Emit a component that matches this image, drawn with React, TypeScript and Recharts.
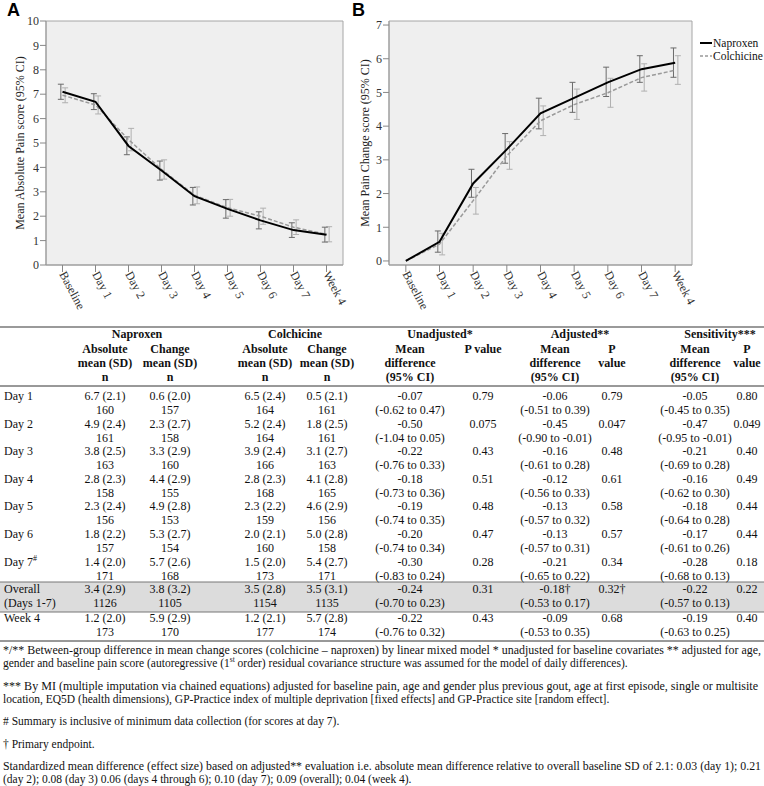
import React from 'react';
import { ComposedChart, Line, Scatter, XAxis, YAxis, ErrorBar, ReferenceArea, Legend } from 'recharts';

// ---------- chart data ----------
const categories = ['Baseline', 'Day 1', 'Day 2', 'Day 3', 'Day 4', 'Day 5', 'Day 6', 'Day 7', 'Week 4'];
const seriesNames = ['Naproxen', 'Colchicine'];

// Panel A: mean absolute pain score with 95% CI
const absNaproxen = [7.10, 6.69, 4.88, 3.87, 2.82, 2.30, 1.83, 1.43, 1.24];
const absNaproxenLow = [6.79, 6.37, 4.52, 3.48, 2.46, 1.92, 1.48, 1.13, 0.94];
const absNaproxenHigh = [7.41, 7.02, 5.25, 4.26, 3.18, 2.68, 2.18, 1.73, 1.55];
const absColchicine = [6.96, 6.56, 5.14, 3.92, 2.86, 2.35, 2.00, 1.55, 1.26];
const absColchicineLow = [6.65, 6.19, 4.68, 3.52, 2.51, 2.00, 1.67, 1.25, 0.95];
const absColchicineHigh = [7.26, 6.93, 5.60, 4.31, 3.20, 2.69, 2.33, 1.85, 1.57];

// Panel B: mean pain change score with 95% CI
const chgNaproxen = [0, 0.57, 2.30, 3.31, 4.38, 4.84, 5.30, 5.69, 5.88];
const chgNaproxenLow = [0, 0.26, 1.89, 2.90, 3.92, 4.41, 4.88, 5.30, 5.45];
const chgNaproxenHigh = [0, 0.89, 2.72, 3.78, 4.83, 5.30, 5.75, 6.09, 6.32];
const chgColchicine = [0, 0.50, 1.79, 3.12, 4.16, 4.64, 4.99, 5.44, 5.66];
const chgColchicineLow = [0, 0.18, 1.39, 2.72, 3.72, 4.20, 4.56, 5.04, 5.24];
const chgColchicineHigh = [0, 0.82, 2.18, 3.54, 4.60, 5.10, 5.42, 5.85, 6.09];

const absTicks = [0, 1, 2, 3, 4, 5, 6, 7, 8, 9, 10];
const chgTicks = [0, 1, 2, 3, 4, 5, 6, 7];

// ---------- table data ----------
const rowLabels = ['Day 1', 'Day 2', 'Day 3', 'Day 4', 'Day 5', 'Day 6', 'Day 7', 'Overall', 'Week 4'];
const rowLabels2 = ['', '', '', '', '', '', '', '(Days 1-7)', ''];
const naproxenAbs = ['6.7 (2.1)', '4.9 (2.4)', '3.8 (2.5)', '2.8 (2.3)', '2.3 (2.4)', '1.8 (2.2)', '1.4 (2.0)', '3.4 (2.9)', '1.2 (2.0)'];
const naproxenAbsN = ['160', '161', '163', '158', '156', '157', '171', '1126', '173'];
const naproxenChg = ['0.6 (2.0)', '2.3 (2.7)', '3.3 (2.9)', '4.4 (2.9)', '4.9 (2.8)', '5.3 (2.7)', '5.7 (2.6)', '3.8 (3.2)', '5.9 (2.9)'];
const naproxenChgN = ['157', '158', '160', '155', '153', '154', '168', '1105', '170'];
const colchicineAbs = ['6.5 (2.4)', '5.2 (2.4)', '3.9 (2.4)', '2.8 (2.3)', '2.3 (2.2)', '2.0 (2.1)', '1.5 (2.0)', '3.5 (2.8)', '1.2 (2.1)'];
const colchicineAbsN = ['164', '164', '166', '168', '159', '160', '173', '1154', '177'];
const colchicineChg = ['0.5 (2.1)', '1.8 (2.5)', '3.1 (2.7)', '4.1 (2.8)', '4.6 (2.9)', '5.0 (2.8)', '5.4 (2.7)', '3.5 (3.1)', '5.7 (2.8)'];
const colchicineChgN = ['161', '161', '163', '165', '156', '158', '171', '1135', '174'];
const unadjMean = ['-0.07', '-0.50', '-0.22', '-0.18', '-0.19', '-0.20', '-0.30', '-0.24', '-0.22'];
const unadjCI = ['(-0.62 to 0.47)', '(-1.04 to 0.05)', '(-0.76 to 0.33)', '(-0.73 to 0.36)', '(-0.74 to 0.35)', '(-0.74 to 0.34)', '(-0.83 to 0.24)', '(-0.70 to 0.23)', '(-0.76 to 0.32)'];
const unadjP = ['0.79', '0.075', '0.43', '0.51', '0.48', '0.47', '0.28', '0.31', '0.43'];
const adjMean = ['-0.06', '-0.45', '-0.16', '-0.12', '-0.13', '-0.13', '-0.21', '-0.18†', '-0.09'];
const adjCI = ['(-0.51 to 0.39)', '(-0.90 to -0.01)', '(-0.61 to 0.28)', '(-0.56 to 0.33)', '(-0.57 to 0.32)', '(-0.57 to 0.31)', '(-0.65 to 0.22)', '(-0.53 to  0.17)', '(-0.53 to 0.35)'];
const adjP = ['0.79', '0.047', '0.48', '0.61', '0.58', '0.57', '0.34', '0.32†', '0.68'];
const sensMean = ['-0.05', '-0.47', '-0.21', '-0.16', '-0.18', '-0.17', '-0.28', '-0.22', '-0.19'];
const sensCI = ['(-0.45 to 0.35)', '(-0.95 to -0.01)', '(-0.69 to 0.28)', '(-0.62 to 0.30)', '(-0.64 to 0.28)', '(-0.61 to 0.26)', '(-0.68 to 0.13)', '(-0.57 to 0.13)', '(-0.63 to 0.25)'];
const sensP = ['0.80', '0.049', '0.40', '0.49', '0.44', '0.44', '0.18', '0.22', '0.40'];

const groupHeaders = ['Naproxen', 'Colchicine', 'Unadjusted*', 'Adjusted**', 'Sensitivity***'];
const subHeaders = [
  ['Absolute', 'mean (SD)', 'n'],
  ['Change', 'mean (SD)', 'n'],
  ['Absolute', 'mean (SD)', 'n'],
  ['Change', 'mean (SD)', 'n'],
  ['Mean', 'difference', '(95% CI)'],
  ['P value', '', ''],
  ['Mean', 'difference', '(95% CI)'],
  ['P', 'value', ''],
  ['Mean', 'difference', '(95% CI)'],
  ['P', 'value', ''],
];

// ---------- layout / style ----------
const SERIF = "'Liberation Serif', 'Times New Roman', serif";
const SANS = "'Liberation Sans', Arial, sans-serif";
const colX = [105, 170, 265, 327, 410, 483, 555, 612, 695, 747];
const groupX = [137, 295, 440, 580, 720];
const NAP_DODGE = -0.05;
const COL_DODGE = 0.08;

const absData = categories.map((c, i) => ({ x: i, nap: absNaproxen[i], col: absColchicine[i] }));
const chgData = categories.map((c, i) => ({ x: i, nap: chgNaproxen[i], col: chgColchicine[i] }));

const errData = (vals: number[], lo: number[], hi: number[], dodge: number) =>
  vals
    .map((v, i) => ({ x: i + dodge, y: v, err: [v - lo[i], hi[i] - v] }))
    .filter((d) => d.err[0] + d.err[1] > 0);

const xTickValues = categories.map((c, i) => i);

const XTick = (props: any) => {
  const { x, y, payload } = props;
  return (
    <text
      x={x}
      y={y}
      transform={`rotate(62, ${x}, ${y})`}
      textAnchor="start"
      dominantBaseline="central"
      fontFamily={SERIF}
      fontSize={12}
      fill="#333"
    >
      {categories[payload.value]}
    </text>
  );
};

const EmptyShape = () => <g />;

const LegendContent = () => (
  <svg width={72} height={30} style={{ display: 'block' }}>
    <line x1={8} x2={20} y1={7} y2={7} stroke="#000" strokeWidth={2} />
    <text x={21} y={7} dominantBaseline="central" fontFamily={SERIF} fontSize={11.5} fill="#111">
      {seriesNames[0]}
    </text>
    <line x1={8} x2={20} y1={20} y2={20} stroke="#999" strokeWidth={1.5} strokeDasharray="3 2" />
    <text x={21} y={20} dominantBaseline="central" fontFamily={SERIF} fontSize={11.5} fill="#111">
      {seriesNames[1]}
    </text>
  </svg>
);

const tickStyle = { fontFamily: SERIF, fontSize: 12, fill: '#333' };

const PanelChart = (p: {
  width: number;
  data: any[];
  yDomain: [number, number];
  yTicks: number[];
  yAxisWidth: number;
  labelOffset: number;
  label: string;
  napErr: any[];
  colErr: any[];
  withLegend: boolean;
  marginRight: number;
}) => (
  <ComposedChart
    width={p.width}
    height={320}
    data={p.data}
    margin={{ top: 21, right: p.marginRight, bottom: 0, left: 0 }}
  >
    <XAxis
      dataKey="x"
      type="number"
      domain={[-0.5, 8.5]}
      ticks={xTickValues}
      interval={0}
      tick={<XTick />}
      tickSize={7}
      tickMargin={0}
      height={55}
      axisLine={{ stroke: '#999' }}
      tickLine={{ stroke: '#888' }}
      allowDataOverflow
    />
    <YAxis
      dataKey="y"
      type="number"
      domain={p.yDomain}
      ticks={p.yTicks}
      interval={0}
      width={p.yAxisWidth}
      tickSize={6}
      tickMargin={1}
      tick={tickStyle}
      axisLine={{ stroke: '#999' }}
      tickLine={{ stroke: '#888' }}
      allowDataOverflow
      label={{
        value: p.label,
        angle: -90,
        position: 'insideLeft',
        offset: p.labelOffset,
        style: { textAnchor: 'middle', fontFamily: SERIF, fontSize: 12, fill: '#222' },
      }}
    />
    <ReferenceArea
      x1={-0.5}
      x2={8.5}
      y1={p.yDomain[0]}
      y2={p.yDomain[1]}
      fill="#efefef"
      fillOpacity={1}
      stroke="#a6a6a6"
      strokeWidth={1}
    />
    {p.withLegend && (
      <Legend
        layout="vertical"
        align="right"
        verticalAlign="top"
        content={<LegendContent />}
        wrapperStyle={{ top: 36, right: 0, width: 72, height: 30 }}
      />
    )}
    <Scatter data={p.colErr} dataKey="y" shape={EmptyShape} isAnimationActive={false} legendType="none">
      <ErrorBar dataKey="err" direction="y" width={3} stroke="#b0b0b0" strokeWidth={1} isAnimationActive={false} />
    </Scatter>
    <Scatter data={p.napErr} dataKey="y" shape={EmptyShape} isAnimationActive={false} legendType="none">
      <ErrorBar dataKey="err" direction="y" width={3} stroke="#6a6a6a" strokeWidth={1} isAnimationActive={false} />
    </Scatter>
    <Line
      dataKey="col"
      name={seriesNames[1]}
      type="linear"
      stroke="#9a9a9a"
      strokeWidth={1.5}
      strokeDasharray="4 2"
      dot={false}
      activeDot={false}
      isAnimationActive={false}
    />
    <Line
      dataKey="nap"
      name={seriesNames[0]}
      type="linear"
      stroke="#000"
      strokeWidth={2}
      dot={false}
      activeDot={false}
      isAnimationActive={false}
    />
  </ComposedChart>
);

const Table = () => {
  const line1 = [naproxenAbs, naproxenChg, colchicineAbs, colchicineChg, unadjMean, unadjP, adjMean, adjP, sensMean, sensP];
  const line2: (string[] | null)[] = [naproxenAbsN, naproxenChgN, colchicineAbsN, colchicineChgN, unadjCI, null, adjCI, null, sensCI, null];
  const rowY = rowLabels.map((r, i) => (i < 8 ? 396 + i * 27.6 : 618));
  const headerY = [334, 349, 363, 377];
  const t = { fontFamily: SERIF, fontSize: 12, fill: '#111', dominantBaseline: 'central' as const };
  const f = { fontFamily: SERIF, fontSize: 11.5, fill: '#111', dominantBaseline: 'central' as const };
  return (
    <svg
      width={764}
      height={786}
      style={{ position: 'absolute', left: 0, top: 0, pointerEvents: 'none' }}
    >
      <text x={7} y={16} fontFamily={SANS} fontWeight="bold" fontSize={18} fill="#000">A</text>
      <text x={352} y={16} fontFamily={SANS} fontWeight="bold" fontSize={18} fill="#000">B</text>

      <line x1={0} x2={764} y1={327} y2={327} stroke="#9a9a9a" strokeWidth={2} />
      {groupHeaders.map((g, i) => (
        <text key={g} {...t} x={groupX[i]} y={headerY[0]} textAnchor="middle" fontWeight="bold">{g}</text>
      ))}
      {subHeaders.map((lines, c) =>
        lines.map((s, k) =>
          s ? (
            <text key={`${c}-${k}`} {...t} x={colX[c]} y={headerY[k + 1]} textAnchor="middle" fontWeight="bold">{s}</text>
          ) : null
        )
      )}
      <line x1={0} x2={764} y1={386} y2={386} stroke="#333" strokeWidth={1} />

      <rect x={0} y={582} width={764} height={30} fill="#dcdcdc" />
      <line x1={0} x2={764} y1={582} y2={582} stroke="#777" strokeWidth={1} />
      <line x1={0} x2={764} y1={612} y2={612} stroke="#777" strokeWidth={1} />

      {rowLabels.map((r, i) => (
        <g key={r}>
          <text {...t} x={4} y={rowY[i]} textAnchor="start">
            {r}
            {i === 6 ? <tspan dy={-4} fontSize={8}>#</tspan> : null}
          </text>
          {rowLabels2[i] ? <text {...t} x={4} y={rowY[i] + 14} textAnchor="start">{rowLabels2[i]}</text> : null}
          {line1.map((col, c) => (
            <text key={`a${c}`} {...t} x={colX[c]} y={rowY[i]} textAnchor="middle">{col[i]}</text>
          ))}
          {line2.map((col, c) =>
            col ? <text key={`b${c}`} {...t} x={colX[c]} y={rowY[i] + 14} textAnchor="middle">{col[i]}</text> : null
          )}
        </g>
      ))}
      <line x1={0} x2={764} y1={641} y2={641} stroke="#333" strokeWidth={1} />

      <text {...f} x={3} y={650} textLength={758} lengthAdjust="spacingAndGlyphs">*/** Between-group difference in mean change scores (colchicine – naproxen) by linear mixed model * unadjusted for baseline covariates ** adjusted for age,</text>
      <text {...f} x={3} y={663}>
        gender and baseline pain score (autoregressive (1<tspan dy={-4} fontSize={7.5}>st</tspan><tspan dy={4}> order) residual covariance structure was assumed for the model of daily differences).</tspan>
      </text>
      <text {...f} x={3} y={686} textLength={755} lengthAdjust="spacingAndGlyphs">*** By MI (multiple imputation via chained equations) adjusted for baseline pain, age and gender plus previous gout, age at first episode, single or multisite</text>
      <text {...f} x={3} y={699}>location, EQ5D (health dimensions), GP-Practice index of multiple deprivation [fixed effects] and GP-Practice site [random effect].</text>
      <text {...f} x={3} y={721}># Summary is inclusive of minimum data collection (for scores at day 7).</text>
      <text {...f} x={3} y={744}>† Primary endpoint.</text>
      <text {...f} x={3} y={766} textLength={758} lengthAdjust="spacingAndGlyphs">Standardized mean difference (effect size) based on adjusted** evaluation i.e. absolute mean difference relative to overall baseline SD of 2.1: 0.03 (day 1); 0.21</text>
      <text {...f} x={3} y={779}>(day 2); 0.08 (day 3) 0.06 (days 4 through 6); 0.10 (day 7); 0.09 (overall); 0.04 (week 4).</text>
    </svg>
  );
};

export default function App() {
  return (
    <div style={{ position: 'absolute', left: 0, top: 0, width: 764, height: 786, background: '#fff', overflow: 'hidden' }}>
      <div style={{ position: 'absolute', left: 0, top: 0 }}>
        <PanelChart
          width={350}
          data={absData}
          yDomain={[0, 10]}
          yTicks={absTicks}
          yAxisWidth={46}
          labelOffset={20}
          label="Mean Absolute Pain score (95% CI)"
          napErr={errData(absNaproxen, absNaproxenLow, absNaproxenHigh, NAP_DODGE)}
          colErr={errData(absColchicine, absColchicineLow, absColchicineHigh, COL_DODGE)}
          withLegend={false}
          marginRight={7}
        />
      </div>
      <div style={{ position: 'absolute', left: 350, top: 0 }}>
        <PanelChart
          width={414}
          data={chgData}
          yDomain={[-0.12, 7.12]}
          yTicks={chgTicks}
          yAxisWidth={39}
          labelOffset={15}
          label="Mean Pain Change score (95% CI)"
          napErr={errData(chgNaproxen, chgNaproxenLow, chgNaproxenHigh, NAP_DODGE)}
          colErr={errData(chgColchicine, chgColchicineLow, chgColchicineHigh, COL_DODGE)}
          withLegend={true}
          marginRight={0}
        />
      </div>
      <Table />
    </div>
  );
}
